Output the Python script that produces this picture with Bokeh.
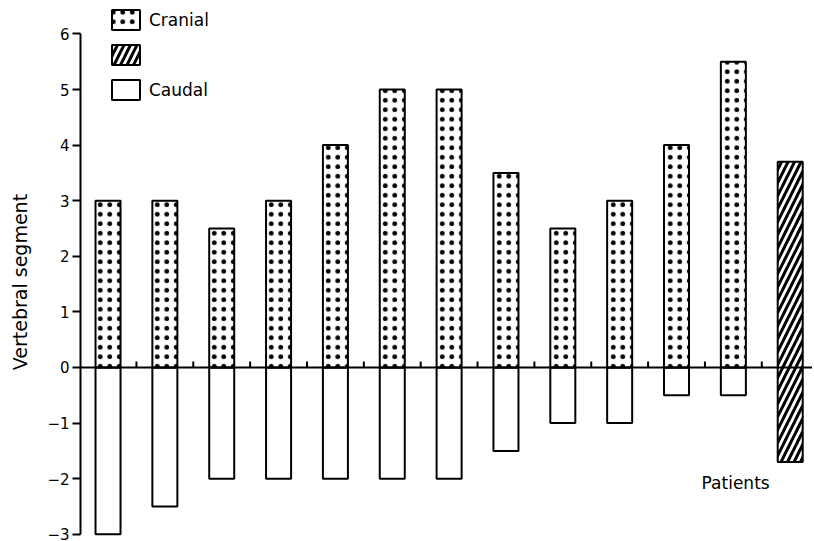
from bokeh.plotting import figure
from bokeh.models import Range1d, FixedTicker, Legend, LegendItem, Label, Span
from bokeh.embed import file_html
from bokeh.resources import INLINE

# ---- data ----
patients = [1, 2, 3, 4, 5, 6, 7, 8, 9, 10, 11, 12]
cranial = [3, 3, 2.5, 3, 4, 5, 5, 3.5, 2.5, 3, 4, 5.5]
caudal = [-3, -2.5, -2, -2, -2, -2, -2, -1.5, -1, -1, -0.5, -0.5]
mixed_patient = [13]
mixed_top = [3.7]
mixed_bottom = [-1.7]
y_ticks = [-3, -2, -1, 0, 1, 2, 3, 4, 5, 6]
y_tick_labels = ["\u22123", "\u22122", "\u22121", "0", "1", "2", "3", "4", "5", "6"]
x_ticks = [1.5, 2.5, 3.5, 4.5, 5.5, 6.5, 7.5, 8.5, 9.5, 10.5, 11.5, 12.5]

FONT = "DejaVu Sans"

p = figure(width=812, height=540, output_backend="svg", toolbar_location=None,
           x_range=Range1d(0.516, 13.392), y_range=Range1d(-3.094, 6.601),
           x_axis_location=None,
           min_border_left=80, min_border_right=0, min_border_top=0, min_border_bottom=1,
           background_fill_color="white", border_fill_color="white")
p.outline_line_color = None
p.grid.visible = False

BW = 0.44
r_caudal = p.vbar(x=patients, top=0, bottom=caudal, width=BW, fill_color="white",
                  line_color="black", line_width=2)
r_cranial = p.vbar(x=patients, top=cranial, bottom=0, width=BW, fill_color="white",
                   line_color="black", line_width=2,
                   hatch_pattern="dot", hatch_color="black",
                   hatch_scale=9.5, hatch_weight=3)
r_mixed = p.vbar(x=mixed_patient, top=mixed_top, bottom=mixed_bottom, width=BW,
                 fill_color="white", line_color="black", line_width=2,
                 hatch_pattern="right_diagonal_line", hatch_color="black",
                 hatch_scale=13, hatch_weight=3)

# horizontal axis line at zero with small upward ticks between patients
p.add_layout(Span(location=0, dimension="width", line_color="black", line_width=2))
p.ray(x=x_ticks, y=0, length=6, length_units="screen", angle=90, angle_units="deg",
      line_color="black", line_width=2)

ya = p.yaxis[0]
ya.ticker = FixedTicker(ticks=y_ticks)
ya.major_label_overrides = {t: s for t, s in zip(y_ticks, y_tick_labels)}
ya.bounds = (-3, 6)
ya.minor_tick_line_color = None
ya.major_tick_in = 0
ya.major_tick_out = 8
ya.major_label_standoff = 3
ya.axis_line_width = 2
ya.major_tick_line_width = 2
ya.major_label_text_font = FONT
ya.major_label_text_font_size = "15px"
ya.major_label_text_color = "black"
# trailing no-break spaces nudge the title's centre onto the middle of the -3..6 span
ya.axis_label = "Vertebral segment" + "\u00a0" * 4
ya.axis_label_text_font = FONT
ya.axis_label_text_font_size = "19px"
ya.axis_label_text_font_style = "normal"
ya.axis_label_text_color = "black"
ya.axis_label_standoff = 13

legend = Legend(items=[LegendItem(label="Cranial", renderers=[r_cranial]),
                       LegendItem(label=" ", renderers=[r_mixed]),
                       LegendItem(label="Caudal", renderers=[r_caudal])],
                location=(28, 437), padding=0, spacing=10, glyph_width=35, glyph_height=25,
                label_standoff=6, label_text_font=FONT, label_text_font_size="17px",
                label_text_color="black", border_line_alpha=0, background_fill_alpha=0)
p.add_layout(legend)

p.add_layout(Label(x=12.04, y=-2.07, text="Patients", text_align="center",
                   text_baseline="middle", text_font=FONT, text_font_size="17px",
                   text_color="black"))

open("out.html", "w").write(file_html(p, INLINE))
